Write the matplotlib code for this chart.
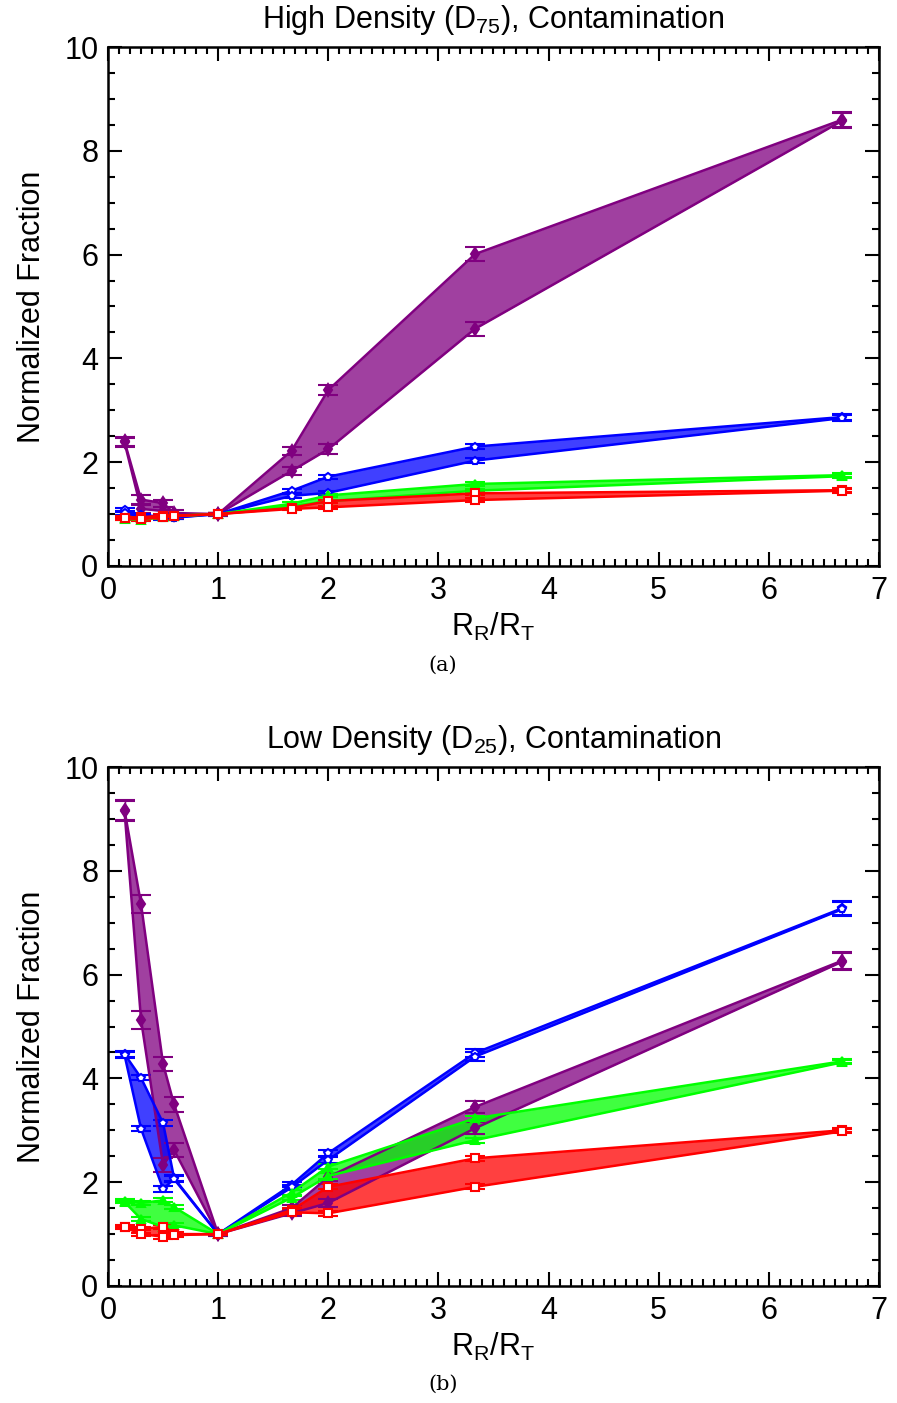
import matplotlib
matplotlib.use("Agg")
import matplotlib.pyplot as plt
from matplotlib.ticker import MultipleLocator

plt.rcParams['font.family'] = ['Liberation Sans', 'DejaVu Sans']
plt.rcParams['mathtext.fontset'] = 'custom'
plt.rcParams['mathtext.rm'] = 'Liberation Sans'

# radius ratio R_R/R_T
x = [0.15, 0.3, 0.5, 0.6, 1.0, 1.667, 2.0, 3.333, 6.667]

# high density (D75): upper / lower curve of each band
hd_purple_hi = [2.40, 1.28, 1.21, 1.02, 1.0, 2.22, 3.39, 6.01, 8.60]
hd_purple_lo = [2.38, 1.10, 1.06, 0.98, 1.0, 1.83, 2.25, 4.57, 8.58]
hd_blue_hi = [1.08, 0.98, 0.95, 0.94, 1.0, 1.45, 1.72, 2.30, 2.87]
hd_blue_lo = [1.02, 0.95, 0.92, 0.93, 1.0, 1.35, 1.41, 2.03, 2.85]
hd_green_hi = [0.93, 0.92, 0.96, 0.97, 1.0, 1.20, 1.36, 1.58, 1.75]
hd_green_lo = [0.91, 0.89, 0.94, 0.96, 1.0, 1.15, 1.25, 1.45, 1.73]
hd_red_hi = [0.93, 0.94, 0.97, 0.97, 1.0, 1.12, 1.25, 1.40, 1.46]
hd_red_lo = [0.92, 0.90, 0.94, 0.96, 1.0, 1.10, 1.13, 1.27, 1.45]

hd_purple_err = [0.08, 0.08, 0.07, 0.05, 0.03, 0.08, 0.10, 0.13, 0.15]
hd_blue_err = [0.04, 0.03, 0.03, 0.03, 0.02, 0.04, 0.04, 0.05, 0.05]
hd_small_err = [0.03, 0.03, 0.03, 0.03, 0.02, 0.03, 0.03, 0.04, 0.04]

# low density (D25)
ld_purple_hi = [9.17, 7.36, 4.28, 3.50, 1.0, 1.50, 2.10, 3.45, 6.27]
ld_purple_lo = [9.15, 5.13, 2.33, 2.62, 1.0, 1.40, 1.60, 3.04, 6.25]
ld_blue_hi = [4.47, 4.01, 3.14, 2.08, 1.0, 1.95, 2.56, 4.49, 7.28]
ld_blue_lo = [4.45, 3.03, 1.87, 2.06, 1.0, 1.90, 2.43, 4.42, 7.26]
ld_green_hi = [1.64, 1.60, 1.65, 1.52, 1.0, 1.80, 2.30, 3.23, 4.33]
ld_green_lo = [1.62, 1.29, 1.14, 1.17, 1.0, 1.70, 2.12, 2.81, 4.31]
ld_red_hi = [1.14, 1.10, 1.14, 1.00, 1.0, 1.46, 1.91, 2.46, 3.00]
ld_red_lo = [1.13, 1.00, 0.95, 0.98, 1.0, 1.42, 1.40, 1.91, 2.98]

ld_purple_err = [0.19, 0.17, 0.14, 0.14, 0.03, 0.06, 0.08, 0.12, 0.16]
ld_blue_err = [0.05, 0.05, 0.06, 0.05, 0.02, 0.05, 0.06, 0.08, 0.14]
ld_small_err = [0.03, 0.03, 0.04, 0.04, 0.02, 0.04, 0.05, 0.05, 0.04]

styles = {
    'purple': dict(c='#800080', m='d', ms=6, face='#800080'),
    'blue': dict(c='#0000ff', m='p', ms=6, face='white'),
    'green': dict(c='#00ff00', m='^', ms=6, face='#00ff00'),
    'red': dict(c='#ff0000', m='s', ms=6, face='white'),
}

FS = 22


def band(ax, hi, lo, err, key):
    s = styles[key]
    ax.fill_between(x, lo, hi, color=s['c'], alpha=0.75, lw=0, zorder=2)
    for y in (hi, lo):
        ax.errorbar(x, y, yerr=err, color=s['c'], lw=1.8, marker=s['m'],
                    ms=s['ms'], mfc=s['face'], mec=s['c'], mew=1.5,
                    elinewidth=0.9, capsize=7, capthick=0.9, zorder=3)


def setup(ax, title):
    ax.set_xlim(0, 7)
    ax.set_ylim(0, 10)
    ax.xaxis.set_major_locator(MultipleLocator(1))
    ax.xaxis.set_minor_locator(MultipleLocator(0.1))
    ax.yaxis.set_major_locator(MultipleLocator(2))
    ax.yaxis.set_minor_locator(MultipleLocator(0.5))
    ax.tick_params(which='both', direction='in', top=True, right=True,
                   labelsize=FS, width=1.5, pad=7)
    ax.tick_params(which='major', length=10)
    ax.tick_params(which='minor', length=5)
    for sp in ax.spines.values():
        sp.set_linewidth(1.8)
    ax.set_title(title, fontsize=FS, pad=14)
    ax.set_xlabel(r'$\mathregular{R_R/R_T}$', fontsize=FS, labelpad=4)
    ax.set_ylabel('Normalized Fraction', fontsize=FS, labelpad=12)


fig = plt.figure(figsize=(8.97, 14.03), dpi=100)
ax1 = fig.add_axes([0.1204, 0.5966, 0.8595, 0.3699])
ax2 = fig.add_axes([0.1204, 0.0834, 0.8595, 0.3699])

band(ax1, hd_purple_hi, hd_purple_lo, hd_purple_err, 'purple')
band(ax1, hd_blue_hi, hd_blue_lo, hd_blue_err, 'blue')
band(ax1, hd_green_hi, hd_green_lo, hd_small_err, 'green')
band(ax1, hd_red_hi, hd_red_lo, hd_small_err, 'red')
setup(ax1, r'High Density (D$\mathregular{_{75}}$), Contamination')

band(ax2, ld_purple_hi, ld_purple_lo, ld_purple_err, 'purple')
band(ax2, ld_blue_hi, ld_blue_lo, ld_blue_err, 'blue')
band(ax2, ld_green_hi, ld_green_lo, ld_small_err, 'green')
band(ax2, ld_red_hi, ld_red_lo, ld_small_err, 'red')
setup(ax2, r'Low Density (D$\mathregular{_{25}}$), Contamination')

fig.text(0.494, 0.526, '(a)', ha='center', va='center', fontsize=15,
         family='DejaVu Serif')
fig.text(0.494, 0.013, '(b)', ha='center', va='center', fontsize=15,
         family='DejaVu Serif')

fig.savefig('out.png', dpi=100)
